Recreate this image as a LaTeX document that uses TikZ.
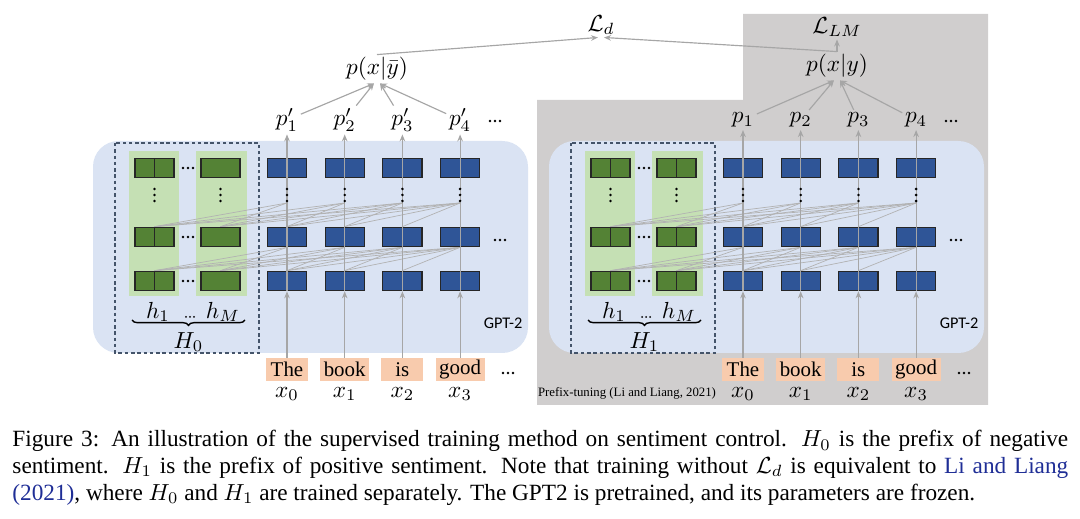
\documentclass[tikz,border=0pt]{standalone}
\usepackage{amsmath}
\usepackage{fontspec}
\setmainfont{Liberation Serif}
\newfontfamily\gptfont{Carlito}
\usetikzlibrary{arrows.meta,calc,decorations.pathreplacing}
\definecolor{panelblue}{HTML}{DAE3F3}
\definecolor{colgreen}{HTML}{C5E0B4}
\definecolor{boxgreen}{HTML}{548235}
\definecolor{boxblue}{HTML}{2F5597}
\definecolor{tokpeach}{HTML}{F8CBAD}
\definecolor{prefgray}{HTML}{D0CECE}
\definecolor{dashgray}{HTML}{44546A}
\definecolor{citeblue}{HTML}{1F2E96}

\begin{document}
\begin{tikzpicture}[x=0.43pt,y=0.43pt]
	    \tikzstyle{every node}+=[inner sep=0pt]
	    \tikzstyle{blk}=[draw=black!85, line width=0.5pt, minimum width=16.8pt, minimum height=8.4pt]
	    \tikzstyle{split}=[path picture={\draw[black!85,line width=0.5pt] (path picture bounding box.north) -- (path picture bounding box.south);}]
	    \tikzstyle{gblk}=[blk, split, fill=boxgreen]
	    \tikzstyle{hblk}=[blk, fill=boxgreen]
	    \tikzstyle{bblk}=[blk, split, fill=boxblue]
	    \tikzstyle{tok}=[fill=tokpeach, minimum width=18pt, minimum height=9.9pt, inner xsep=1.5pt, font=\fontsize{9}{10}\selectfont]
	    \tikzstyle{lbl}=[inner sep=1pt, font=\fontsize{10}{11}\selectfont]
	    \tikzstyle{xlbl}=[inner sep=0pt, font=\fontsize{10}{11}\selectfont]
	    \tikzstyle{gptl}=[font=\gptfont\fontsize{7}{8}\selectfont]
	    \tikzstyle{att}=[draw=black!30, line width=0.3pt]
	    \tikzstyle{flow}=[draw=black!35, line width=0.5pt, -{Stealth[length=3pt,width=2.4pt]}]
	    \tikzstyle{prefbox}=[draw=dashgray, line width=0.45pt, dash pattern=on 1.5pt off 1.2pt]
	    \tikzstyle{capt}=[text width=454pt, align=justify, font=\fontsize{10}{11.4}\selectfont]

	    \useasboundingbox (0,0) rectangle (1080,-519);

	    % prefix-tuning background
	    \fill [prefgray] (537,-100) -- (743,-100) -- (743,-14) -- (988,-14) -- (988,-405) -- (537,-405) -- cycle;

	    \foreach \s/\pn/\hst/\pp/\hl in {0/L/hblk/p'/0, 456/R/gblk/p/1} {
	    \fill [panelblue, rounded corners=11pt] (93+\s,-141) rectangle (528+\s,-353);
	    \fill [colgreen] (129+\s,-151) rectangle (179+\s,-296);
	    \fill [colgreen] (196+\s,-151) rectangle (247+\s,-296);
	    \draw [prefbox] (115+\s,-143) rectangle (259+\s,-353);
	    \foreach \c in {1,...,4}
	      \coordinate (v\pn\c) at ({287+57.7*(\c-1)+\s},-203);
	    % boxes
	    \foreach \r/\y in {1/168,2/237,3/281} {
	      \node [gblk] (g\pn\r) at (154.5+\s,-\y) {};
	      \node [\hst] (m\pn\r) at (220.5+\s,-\y) {};
	      \foreach \d in {-5,0,5} \fill (188+\s+\d,-\y) circle (1.3);
	      \foreach \c in {1,...,4}
	        \node [bblk] (b\pn\r\c) at ({287+57.7*(\c-1)+\s},-\y) {};
	    }
	    % attention
	    \foreach \c in {1,...,4} {
	      \draw [att] (v\pn\c) -- (g\pn2.north);
	      \draw [att] (v\pn\c) -- (m\pn2.north);
	      \draw [att] (b\pn2\c.south) -- (g\pn3.north);
	      \draw [att] (b\pn2\c.south) -- (m\pn3.north);
	      \foreach \i in {1,...,4} {
	        \ifnum\i<\c
	          \draw [att] (v\pn\c) -- (b\pn2\i.north);
	          \draw [att] (b\pn2\c.south) -- (b\pn3\i.north);
	        \fi
	      }
	    }
	    \foreach \d in {-5,0,5} \fill (500+\s+\d,-240) circle (1.3);
	    % tokens and outputs
	    \foreach \c/\w in {1/The,2/book,3/is,4/good} {
	      \pgfmathtruncatemacro\k{\c-1}
	      \node [tok] (t\pn\c) at ({287+57.7*(\c-1)+\s},-369.5) {\w};
	      \node [xlbl] (x\pn\c) at ({287+57.7*(\c-1)+\s},-394) {$x_\k$};
	      \node [lbl] (p\pn\c) at ({287+57.7*(\c-1)+\s},-120) {$\pp_\c$};
	      \draw [flow] (t\pn\c) -- (b\pn3\c);
	      \draw [flow] (b\pn3\c.south) -- (p\pn\c);
	    }
	    % vertical dots
	    \foreach \x in {154.5,220.5,287,344.7,402.4,460.1}
	      \foreach \d in {-6,0,6} \fill (\x+\s,-195+\d) circle (1.4);
	    \foreach \d in {-5,0,5} \fill (508+\s+\d,-373) circle (1.3);
	    \foreach \d in {-5,0,5} \fill (495+\s+\d,-121) circle (1.3);
	    % prefix labels
	    \node [lbl] (h\pn) at (158+\s,-312) {$h_1$};
	    \node [lbl] (hm\pn) at (223+\s,-312) {$h_M$};
	    \foreach \d in {-4,0,4} \fill (190+\s+\d,-317) circle (1);
	    \draw [decorate, decoration={brace, mirror, amplitude=2.3pt}, line width=0.6pt] (132+\s,-320) -- (245+\s,-320);
	    \node [lbl] (H\pn) at (188.5+\s,-342) {$H_\hl$};
	    \node [gptl] (gpt\pn) at (503+\s,-323) {GPT-2};
	    }

	    \node [font=\fontsize{5.5}{6}\selectfont] (pt) at (627,-393) {Prefix-tuning (Li and Liang, 2021)};

	    % losses
	    \node [lbl] (pbar) at (377,-69) {$p(x|\bar{y})$};
	    \node [lbl] (py) at (837,-66) {$p(x|y)$};
	    \node [lbl] (Ld) at (601,-25) {$\mathcal{L}_d$};
	    \node [lbl] (LLM) at (837,-27) {$\mathcal{L}_{LM}$};
	    \foreach \c/\o in {1/-3,2/-3,3/3,4/3} {
	      \draw [flow] (pL\c) -- ($(pbar.south)+(\o,0)$);
	      \draw [flow] (pR\c) -- ($(py.south)+(\o,0)$);
	    }
	    \draw [flow] (pbar.north) -- ($(Ld.south)+(-3,0)$);
	    \draw [flow] (py.north) -- ($(Ld.south)+(3,0)$);
	    \draw [flow] (py.north) -- (LLM.south);

	    % caption
	    \node [capt, anchor=base west] (cap) at (12,-447) {Figure 3: An illustration of the supervised training method on sentiment control. $H_0$ is the prefix of negative\linebreak sentiment. $H_1$ is the prefix of positive sentiment. Note that training without $\mathcal{L}_d$ is equivalent to \textcolor{citeblue}{Li and Liang\linebreak(2021)}, where $H_0$ and $H_1$ are trained separately. The GPT2 is pretrained, and its parameters are frozen.};
    \end{tikzpicture}
\end{document}
